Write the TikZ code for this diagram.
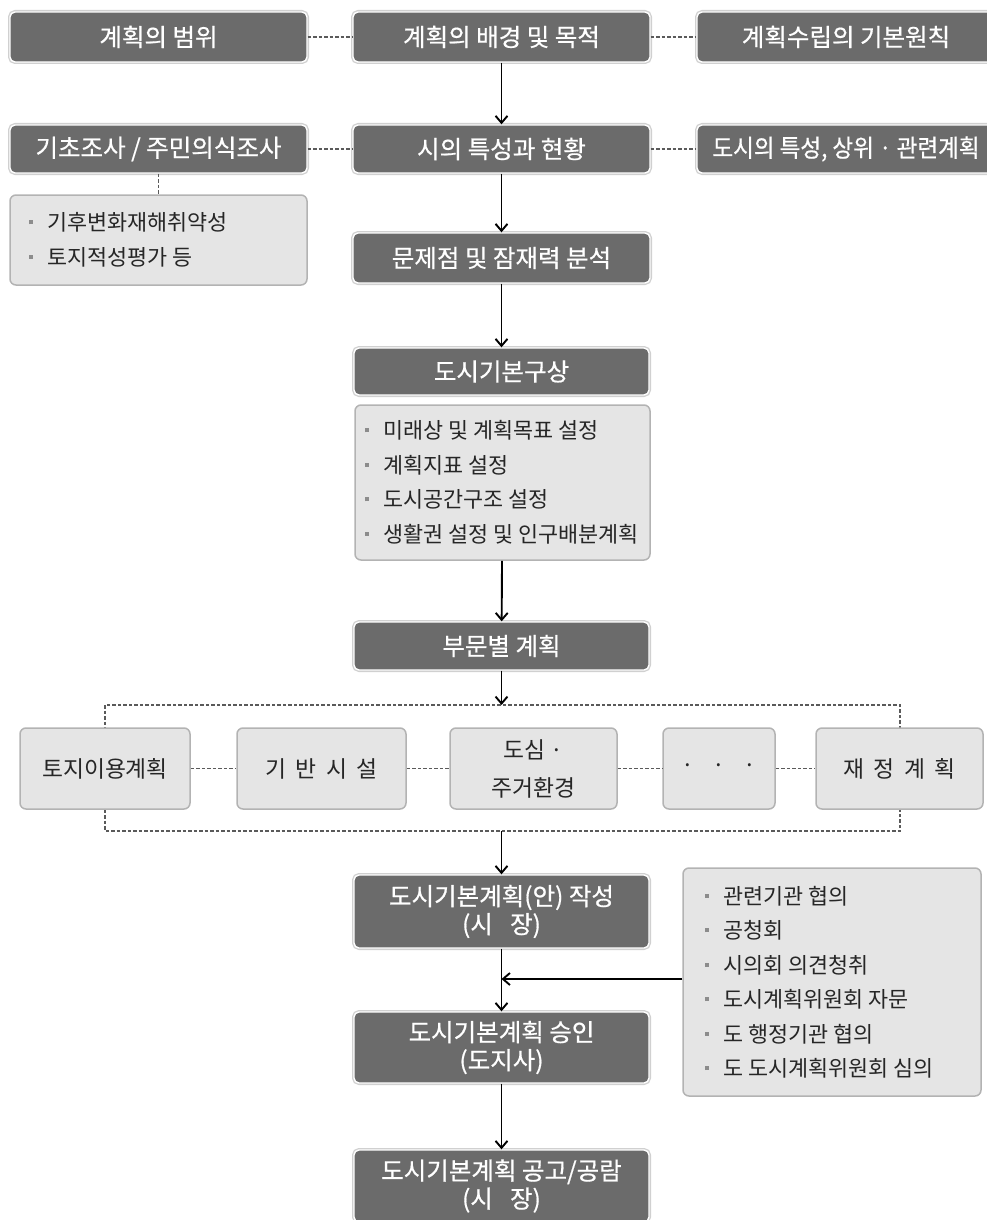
\documentclass[tikz,border=0pt]{standalone}
\usepackage{fontspec}
\usepackage{graphicx}
\setmainfont{Noto Sans CJK KR}
\newfontfamily\heavyfont{Noto Sans CJK KR}[FakeBold=0.6]
\usetikzlibrary{arrows.meta}
\definecolor{boxdark}{HTML}{6B6B6B}
\definecolor{boxrim}{HTML}{D0D0D0}
\definecolor{boxlite}{HTML}{E5E5E5}
\definecolor{liteedge}{HTML}{B3B3B3}
\definecolor{dashgray}{HTML}{5A5A5A}
\definecolor{bulgray}{HTML}{8C8C8C}
\newcommand{\lbul}{\textcolor{bulgray}{\rule[6.5pt]{4pt}{4pt}}\hspace{14pt}}
\newcommand{\wsp}{\hspace{0.4em}}

\tikzset{
  darkbox/.style={rectangle, rounded corners=5pt, fill=boxdark,
    preaction={draw=boxrim, line width=4pt}, draw=white, line width=1.4pt,
    text=white, font=\heavyfont\fontsize{24.5}{28}\selectfont, align=center,
    minimum width=297pt, minimum height=50pt, inner sep=0pt},
  litebox/.style={rectangle, rounded corners=6pt, fill=boxlite, draw=liteedge,
    line width=1.5pt, text=black!85, font=\fontsize{22.8}{38}\selectfont,
    align=center, inner sep=0pt, minimum height=81pt},
  itemtext/.style={font=\fontsize{21.8}{34.5}\selectfont, text=black!85,
    align=left, inner sep=0pt, anchor=west},
  dashline/.style={draw=dashgray, line width=1.3pt, dash pattern=on 3.5pt off 2pt},
  flow/.style={draw=black, line width=1.9pt,
    -{Straight Barb[length=7pt,width=12pt,line width=1.9pt]}}
}

\begin{document}
\begin{tikzpicture}[x=1pt,y=-1pt]
\useasboundingbox (0,0) rectangle (987,1220);

\node[darkbox] (scope) at (158.5,37) {계획의 범위};
\node[darkbox] (purpose) at (501.5,37) {계획의 배경 및 목적};
\node[darkbox,minimum width=298pt] (principle) at (846,37) {계획수립의 기본원칙};

\node[darkbox,minimum height=48pt] (survey) at (158.5,149) {기초조사 / 주민의식조사};
\node[darkbox,minimum height=48pt] (status) at (501.5,149) {시의 특성과 현황};
\node[darkbox,minimum height=48pt,minimum width=298pt] (upper) at (846,149)
  {\scalebox{0.92}[1]{도시의 특성, 상위 · 관련계획}};

\node[litebox,minimum width=297pt,minimum height=90pt] (sbox) at (158.5,240) {};
\node[itemtext] (sitems) at ([xshift=20pt]sbox.west)
  {\lbul 기후변화재해취약성\\ \lbul 토지적성평가 등};

\node[darkbox] (problem) at (501.5,258) {문제점 및 잠재력 분석};
\node[darkbox,minimum width=295pt,minimum height=47pt] (concept) at (501.5,371.5) {도시기본구상};
\node[litebox,minimum width=295pt,minimum height=155pt] (cbox) at (502.5,482.5) {};
\node[itemtext] (citems) at ([xshift=11pt]cbox.west)
  {\lbul 미래상 및 계획목표 설정\\ \lbul 계획지표 설정\\
   \lbul 도시공간구조 설정\\ \lbul 생활권 설정 및 인구배분계획};
\node[darkbox,minimum width=295pt,minimum height=48pt] (sector) at (501.5,646) {부문별 계획};

\draw[dashline] (105,705) rectangle (900,831);
\coordinate (ftop) at (501.5,705);
\coordinate (fbot) at (501.5,831);
\node[litebox,minimum width=170pt] (land) at (105,768.5) {토지이용계획};
\node[litebox,minimum width=169pt] (infra) at (321.5,768.5) {기\wsp 반\wsp 시\wsp 설};
\node[litebox,minimum width=167pt] (urban) at (533.5,768.5) {도심 ·\\주거환경};
\node[litebox,minimum width=112pt] (etc) at (719,768.5) {·\hspace{0.8em}·\hspace{0.8em}·};
\node[litebox,minimum width=167pt] (finance) at (899.5,768.5) {재\wsp 정\wsp 계\wsp 획};

\node[darkbox,minimum width=295pt,minimum height=73pt] (draft) at (501.5,911.5)
  {도시기본계획(안) 작성\\(시\hspace{0.7em}장)};
\node[darkbox,minimum width=295pt,minimum height=71pt] (approve) at (501.5,1047.5)
  {도시기본계획 승인\\(도지사)};
\node[darkbox,minimum width=295pt,minimum height=72pt] (notice) at (501.5,1186)
  {도시기본계획 공고/공람\\(시\hspace{0.7em}장)};

\node[litebox,minimum width=298pt,minimum height=228pt] (rbox) at (832,982) {};
\node[itemtext] (ritems) at ([xshift=23pt]rbox.west)
  {\lbul 관련기관 협의\\ \lbul 공청회\\ \lbul 시의회 의견청취\\
   \lbul 도시계획위원회 자문\\ \lbul 도 행정기관 협의\\ \lbul 도 도시계획위원회 심의};
\coordinate (join) at (501.5,979);

\draw[dashline] (scope) -- (purpose);
\draw[dashline] (purpose) -- (principle);
\draw[dashline] (survey) -- (status);
\draw[dashline] (status) -- (upper);
\draw[dashline] (survey) -- (sbox);
\draw[dashline] (land) -- (infra);
\draw[dashline] (infra) -- (urban);
\draw[dashline] (urban) -- (etc);
\draw[dashline] (etc) -- (finance);

\draw[flow] (purpose) -- (status);
\draw[flow] (status) -- (problem);
\draw[flow] (problem) -- (concept);
\draw[flow] (cbox) -- (sector);
\draw[flow] (sector) -- (ftop);
\draw[flow] (fbot) -- (draft);
\draw[flow] (draft) -- (approve);
\draw[flow] (approve) -- (notice);
\draw[flow] (rbox.west |- join) -- (join);
\end{tikzpicture}
\end{document}
